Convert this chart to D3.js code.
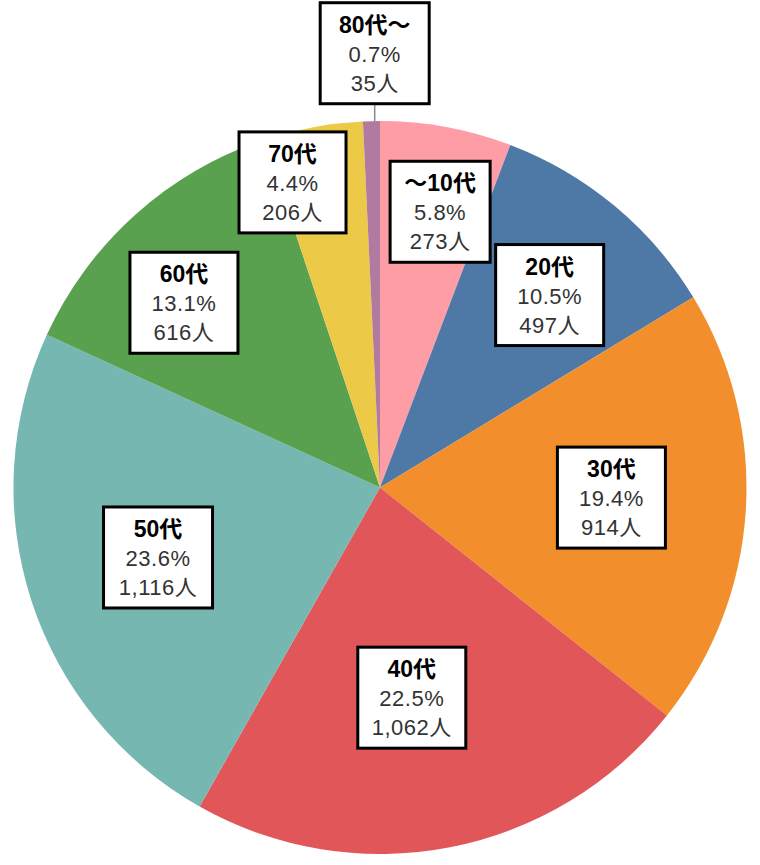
<!DOCTYPE html>
<html><head><meta charset="utf-8">
<script src="https://cdn.jsdelivr.net/npm/d3@7"></script>
<style>html,body{margin:0;padding:0;background:#fff;}</style>
</head><body>
<svg id="chart" width="760" height="865"></svg>
<script>
// Data
const categories = ["～10代", "20代", "30代", "40代", "50代", "60代", "70代", "80代～"];
const counts = [273, 497, 914, 1062, 1116, 616, 206, 35];
const percents = ["5.8%", "10.5%", "19.4%", "22.5%", "23.6%", "13.1%", "4.4%", "0.7%"];
const countLabels = ["273人", "497人", "914人", "1,062人", "1,116人", "616人", "206人", "35人"];
const colors = ["#FF9DA7", "#4E79A7", "#F28E2B", "#E15759", "#76B7B2", "#59A14F", "#EDC948", "#B07AA1"];
// label placement (radius factor, angle in degrees from 12 o'clock)
const labelRadius = [0.77, 0.70, 0.632, 0.58, 0.635, 0.735, 0.866, 1.185];
const labelAngle = [12.3, 41.4, 92.5, 171.4, 252.5, 313.3, 344, 359.3];
const labelWidth = [100, 108, 108, 108, 109, 108, 107, 109];

const svg = d3.select("#chart");
const cx = 380, cy = 487.5, R = 366.5;
const g = svg.append("g").attr("transform", `translate(${cx},${cy})`);

const pie = d3.pie().sort(null).value(d => d)(counts);
const arc = d3.arc().innerRadius(0).outerRadius(R);

g.selectAll("path.slice").data(pie).join("path")
  .attr("class", "slice")
  .attr("d", arc)
  .attr("fill", (d, i) => colors[i]);

const fontFam = "'Liberation Sans', 'Noto Sans CJK JP', sans-serif";
const boxH = 101;

// leader line for the small slice
const last = pie[pie.length - 1];
const midA = (last.startAngle + last.endAngle) / 2;
const lp = d3.pointRadial((labelAngle[7]) * Math.PI / 180, R * labelRadius[7]);
g.append("line")
  .attr("x1", lp[0]).attr("y1", lp[1] + boxH / 2)
  .attr("x2", lp[0]).attr("y2", d3.pointRadial(midA, R)[1])
  .attr("stroke", "#8a8a8a").attr("stroke-width", 1.5);

const labels = g.selectAll("g.lbl").data(pie).join("g")
  .attr("class", "lbl")
  .attr("transform", (d, i) => {
    const p = d3.pointRadial(labelAngle[i] * Math.PI / 180, R * labelRadius[i]);
    return `translate(${p[0]},${p[1]})`;
  });

labels.append("rect")
  .attr("x", (d, i) => -labelWidth[i] / 2).attr("y", -boxH / 2)
  .attr("width", (d, i) => labelWidth[i]).attr("height", boxH)
  .attr("fill", "#fff").attr("stroke", "#000").attr("stroke-width", 3);

labels.append("text")
  .attr("text-anchor", "middle").attr("y", -boxH / 2 + 30)
  .attr("font-family", fontFam).attr("font-size", 23).attr("font-weight", "bold")
  .attr("fill", "#000")
  .text((d, i) => categories[i]);
labels.append("text")
  .attr("text-anchor", "middle").attr("y", -boxH / 2 + 59)
  .attr("font-family", fontFam).attr("font-size", 22).attr("letter-spacing", 0.5)
  .attr("fill", "#333")
  .text((d, i) => percents[i]);
labels.append("text")
  .attr("text-anchor", "middle").attr("y", -boxH / 2 + 88)
  .attr("font-family", fontFam).attr("font-size", 22).attr("letter-spacing", 0.5)
  .attr("fill", "#333")
  .text((d, i) => countLabels[i]);
</script>
</body></html>
